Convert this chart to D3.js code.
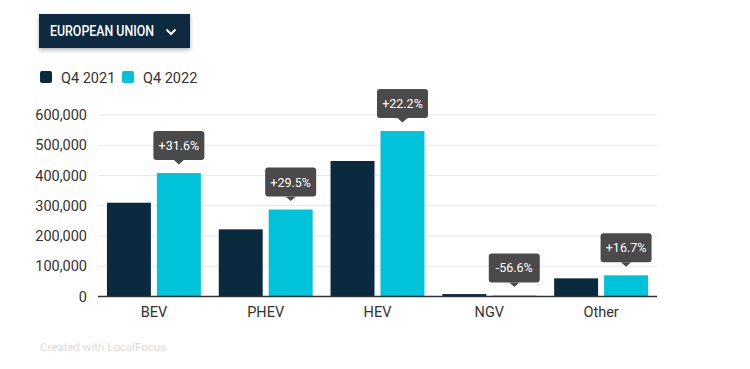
<!DOCTYPE html>
<html>
<head>
<meta charset="utf-8">
<script src="https://cdn.jsdelivr.net/npm/d3@7"></script>
<style>
  body { margin: 0; background: #fff; font-family: Roboto, "Noto Sans", sans-serif; }
</style>
</head>
<body>
<div id="chart"></div>
<script>
// data
const categories = ["BEV", "PHEV", "HEV", "NGV", "Other"];
const seriesNames = ["Q4 2021", "Q4 2022"];
const q4_2021 = [310000, 222000, 448000, 8000, 60000];
const q4_2022 = [408000, 287500, 547000, 3470, 70000];
const changes = ["+31.6%", "+29.5%", "+22.2%", "-56.6%", "+16.7%"];
const yTicks = [0, 100000, 200000, 300000, 400000, 500000, 600000];

const colors = ["#0a2b3f", "#00c2d9"];

const width = 750, height = 369;
const margin = {left: 98, right: 93, top: 115, bottom: 73};

const svg = d3.select("#chart")
  .append("svg")
    .attr("width", width)
    .attr("height", height);

// filter dropdown button with shadow
const defs = svg.append("defs");
const f = defs.append("filter").attr("id", "shadow").attr("x", "-20%").attr("y", "-30%").attr("width", "140%").attr("height", "180%");
f.append("feDropShadow").attr("dx", 0).attr("dy", 2).attr("stdDeviation", 2).attr("flood-color", "#000").attr("flood-opacity", 0.3);

svg.append("rect")
  .attr("x", 39).attr("y", 14).attr("width", 151).attr("height", 34)
  .attr("fill", "#0a2b3f")
  .attr("filter", "url(#shadow)");
svg.append("text")
  .attr("x", 50).attr("y", 36)
  .attr("fill", "#fff")
  .style("font-size", "14px")
  .style("font-weight", 500)
  .attr("textLength", 104)
  .attr("lengthAdjust", "spacingAndGlyphs")
  .text("EUROPEAN UNION");
svg.append("path")
  .attr("d", "M166.5,29.5 L171,34 L175.5,29.5")
  .attr("fill", "none")
  .attr("stroke", "#fff")
  .attr("stroke-width", 2);

// legend
const legend = svg.append("g").attr("transform", "translate(40,71)");
const li = legend.selectAll("g")
  .data(seriesNames)
  .join("g")
    .attr("transform", (d, i) => `translate(${i * 82},0)`);
li.append("rect")
  .attr("width", 12).attr("height", 12).attr("rx", 2)
  .attr("fill", (d, i) => colors[i]);
li.append("text")
  .attr("x", 21).attr("y", 11.5)
  .attr("fill", "#333")
  .style("font-size", "14.5px")
  .text(d => d);

// scales
const x0 = d3.scaleBand()
  .domain(categories)
  .range([margin.left, width - margin.right])
  .paddingInner(0.16)
  .paddingOuter(0.08);
const x1 = d3.scaleBand()
  .domain(seriesNames)
  .range([0, x0.bandwidth()])
  .paddingInner(0.12);
const y = d3.scaleLinear()
  .domain([0, 600000])
  .range([height - margin.bottom + 0.5, margin.top]);

// grid
svg.append("g")
  .selectAll("line")
  .data(yTicks.slice(1))
  .join("line")
    .attr("x1", margin.left).attr("x2", width - margin.right)
    .attr("y1", d => y(d)).attr("y2", d => y(d))
    .attr("stroke", "#e8e8e8");

// y axis
const yAxis = svg.append("g")
  .attr("transform", `translate(${margin.left - 11},0)`)
  .call(d3.axisLeft(y).tickValues(yTicks).tickFormat(d3.format(",")).tickSize(0).tickPadding(0));
yAxis.select(".domain").remove();
yAxis.selectAll("text")
  .attr("fill", "#333")
  .style("font-size", "14.5px")
  .style("font-family", "Roboto, sans-serif");

// bars
const rows = categories.map((c, i) => ({cat: c, values: [q4_2021[i], q4_2022[i]], change: changes[i]}));
const groups = svg.append("g")
  .selectAll("g")
  .data(rows)
  .join("g")
    .attr("transform", d => `translate(${x0(d.cat)},0)`);
groups.selectAll("rect")
  .data(d => d.values.map((v, i) => ({key: seriesNames[i], value: v, i: i})))
  .join("rect")
    .attr("x", d => x1(d.key))
    .attr("width", x1.bandwidth())
    .attr("y", d => y(d.value))
    .attr("height", d => y(0) - y(d.value))
    .attr("fill", d => colors[d.i]);

// baseline
svg.append("line")
  .attr("x1", margin.left).attr("x2", width - margin.right)
  .attr("y1", y(0)).attr("y2", y(0))
  .attr("stroke", "#333").attr("stroke-width", 1.5);

// x axis labels
svg.append("g")
  .attr("transform", `translate(0,${y(0)})`)
  .call(d3.axisBottom(x0).tickSize(0).tickPadding(10))
  .call(g => g.select(".domain").remove())
  .selectAll("text")
    .attr("fill", "#333")
    .style("font-size", "14.5px")
    .style("font-family", "Roboto, sans-serif");

// change callouts above the Q4 2022 bars
const tip = groups.append("g")
  .attr("transform", d => `translate(${x1(seriesNames[1]) + x1.bandwidth() / 2},${y(d.values[1]) - 13})`);
tip.append("rect")
  .attr("x", -25.5).attr("y", -29).attr("width", 51).attr("height", 29).attr("rx", 3)
  .attr("fill", "#4a4a4a");
tip.append("path")
  .attr("d", "M-5,0 L0,4.5 L5,0 Z")
  .attr("fill", "#4a4a4a");
tip.append("text")
  .attr("y", -10)
  .attr("text-anchor", "middle")
  .attr("fill", "#fff")
  .style("font-size", "12.5px")
  .text(d => d.change);

// footer
svg.append("text")
  .attr("x", 40).attr("y", 351)
  .attr("fill", "#dcdcdc")
  .style("font-size", "11.5px")
  .text("Created with LocalFocus");
</script>
</body>
</html>
